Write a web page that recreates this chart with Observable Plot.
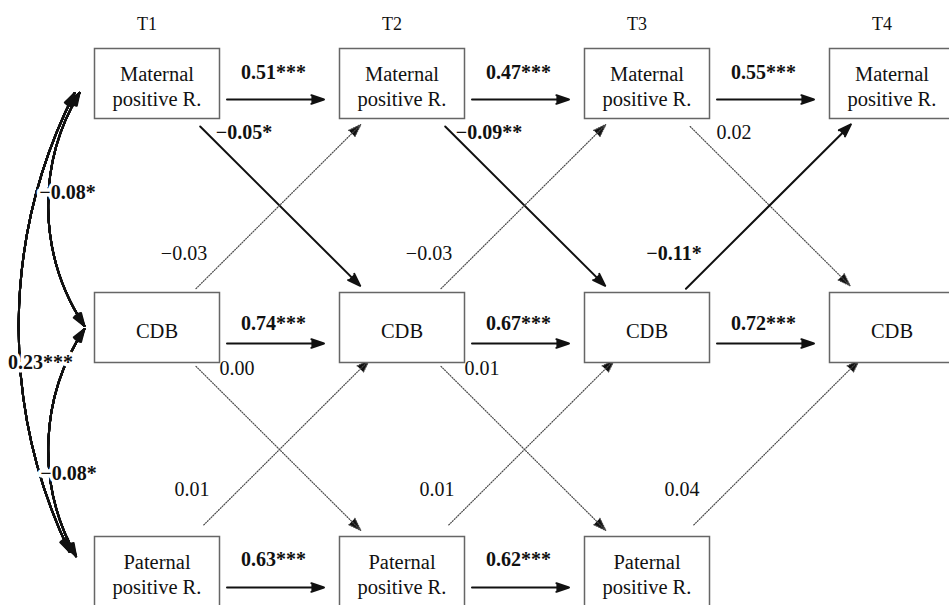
<!DOCTYPE html>
<html><head><meta charset="utf-8">
<script src="https://cdn.jsdelivr.net/npm/d3@7"></script>
<script src="https://cdn.jsdelivr.net/npm/@observablehq/plot@0.6"></script>
<style>html,body{margin:0;padding:0;background:#fff;overflow:hidden}#chart{width:949px;height:605px;overflow:hidden}
#chart svg text{font-family:"Liberation Serif","Times New Roman",serif !important;}</style>
</head><body><div id="chart"></div>
<script>
// ---- data ----
const times = ["T1", "T2", "T3", "T4"];
const constructs = ["Maternal\npositive R.", "CDB", "Paternal\npositive R."];
const wavesMeasured = [4, 4, 3];

const matStability = [0.51, 0.47, 0.55];
const matStabilityStars = ["***", "***", "***"];
const cdbStability = [0.74, 0.67, 0.72];
const cdbStabilityStars = ["***", "***", "***"];
const patStability = [0.63, 0.62];
const patStabilityStars = ["***", "***"];
const matToCdb = [-0.05, -0.09, 0.02];
const matToCdbStars = ["*", "**", ""];
const cdbToMat = [-0.03, -0.03, -0.11];
const cdbToMatStars = ["", "", "*"];
const cdbToPat = [0.00, 0.01];
const cdbToPatStars = ["", ""];
const patToCdb = [0.01, 0.01, 0.04];
const patToCdbStars = ["", "", ""];
const t1CorrPairs = [[0, 1], [0, 2], [1, 2]];
const t1Corr = [-0.08, 0.23, -0.08];
const t1CorrStars = ["*", "***", "*"];

// ---- helpers ----
const serif = "Liberation Serif";
const fmt = (v, s) => (v < 0 ? "\u2212" : "") + Math.abs(v).toFixed(2) + s;
const paths = (vals, stars, r1, r2) =>
  vals.map((v, i) => ({t1: i, r1, t2: i + 1, r2, label: fmt(v, stars[i]), sig: stars[i] !== ""}));

const nodes = constructs.flatMap((c, r) => d3.range(wavesMeasured[r]).map(t => ({t, r, label: c})));

// layout / style per path group (pixel offsets)
const groups = [
  {edges: paths(matStability, matStabilityStars, 0, 0), mid: true, inS: 70, inE: 78, dy: 16, ldx: -6, ldy: -11},
  {edges: paths(cdbStability, cdbStabilityStars, 1, 1), mid: true, inS: 70, inE: 78, dy: 16, ldx: -6, ldy: -4},
  {edges: paths(patStability, patStabilityStars, 2, 2), mid: true, inS: 70, inE: 78, dy: 16, ldx: -6, ldy: -12},
  {edges: paths(matToCdb, matToCdbStars, 0, 1), mid: false, inS: 61, inE: 59, dy: 0, ldx: 87, ldy: 49},
  {edges: paths(cdbToMat, cdbToMatStars, 1, 0), mid: false, inS: 55, inE: 58, dy: 0, ldx: 27, ldy: -74},
  {edges: paths(cdbToPat, cdbToPatStars, 1, 2), mid: false, inS: 55, inE: 58, dy: 0, ldx: 80, ldy: 41},
  {edges: paths(patToCdb, patToCdbStars, 2, 1), mid: false, inS: 66, inE: 46, dy: 0, ldx: 35, ldy: -82}
];

const boxSymbol = {draw(ctx) { ctx.rect(-62.5, -35, 125, 70); }};
const ink = "#111";

const marks = [];

// cross-lagged and stability paths
for (const g of groups) {
  for (const sig of [true, false]) {
    const data = g.edges.filter(d => d.sig === sig);
    if (!data.length) continue;
    marks.push(Plot.arrow(data, {
      x1: "t1", y1: "r1", x2: "t2", y2: "r2",
      insetStart: g.inS, insetEnd: g.inE, dy: g.dy,
      stroke: sig ? ink : "#4a4a4a",
      strokeWidth: sig ? 2 : 1.2,
      strokeDasharray: sig ? undefined : "1,1.6",
      fill: ink,
      headLength: sig ? 10 : 17,
      headAngle: 38
    }));
    marks.push(Plot.text(data, {
      x: d => g.mid ? (d.t1 + d.t2) / 2 : d.t1,
      y: "r1",
      text: "label",
      dx: g.ldx, dy: g.ldy,
      fontSize: 20,
      fontFamily: serif,
      fontWeight: sig ? "bold" : "normal",
      fill: ink
    }));
  }
}

// T1 correlations (double-headed curved arrows)
const corrStyle = [
  {bend: 34, inA: 11, inB: 2, dx: -71.5, ldx: -89.5, ldy: -13},
  {bend: 28, inA: 11, inB: 22, dx: -77.5, ldx: -116.5, ldy: 35},
  {bend: 34, inA: 2, inB: 18, dx: -71.5, ldx: -88.5, ldy: 24}
];
const corrData = t1CorrPairs.map(([a, b], k) => ({a, b, k, label: fmt(t1Corr[k], t1CorrStars[k])}));
for (const d of corrData) {
  const s = corrStyle[d.k];
  for (const ha of [38, 30, 22, 14, 6]) {
    marks.push(Plot.arrow([d], {x1: () => 0, y1: "a", x2: () => 0, y2: "b", bend: -s.bend,
      insetStart: s.inA, insetEnd: s.inB, dx: s.dx, stroke: ink, strokeWidth: 2, headLength: 10, headAngle: ha}));
    marks.push(Plot.arrow([d], {x1: () => 0, y1: "b", x2: () => 0, y2: "a", bend: s.bend,
      insetStart: s.inB, insetEnd: s.inA, dx: s.dx, stroke: ink, strokeWidth: 2, headLength: 10, headAngle: ha}));
  }
}
for (const d of corrData) {
  const s = corrStyle[d.k];
  marks.push(Plot.text([d], {x: () => 0, y: r => (r.a + r.b) / 2, text: "label", dx: s.ldx, dy: s.ldy,
    fontSize: 20, fontFamily: serif, fontWeight: "bold", fill: ink, stroke: "white", strokeWidth: 7}));
}

// boxes and node labels
marks.push(Plot.dot(nodes, {x: "t", y: "r", symbol: boxSymbol, r: 10, fill: "white", stroke: "#666", strokeWidth: 1.5}));
marks.push(Plot.text(nodes, {x: "t", y: "r", text: "label", fontSize: 20.5, fontFamily: serif, lineHeight: 1.22, dy: 2, fill: ink}));

// time headers
marks.push(Plot.text(times, {x: (d, i) => i, text: d => d, frameAnchor: "top", dy: 17, dx: -10, fontSize: 18, fontFamily: serif, fill: ink}));

const chart = Plot.plot({
  width: 949, height: 605,
  margin: 0,
  x: {type: "linear", domain: [0, 3], range: [156.5, 891.5], axis: null},
  y: {type: "linear", domain: [0, 2], range: [83, 571], axis: null},
  style: {fontFamily: serif, background: "white", overflow: "hidden"},
  marks
});
document.getElementById("chart").appendChild(chart);
</script>
</body></html>
